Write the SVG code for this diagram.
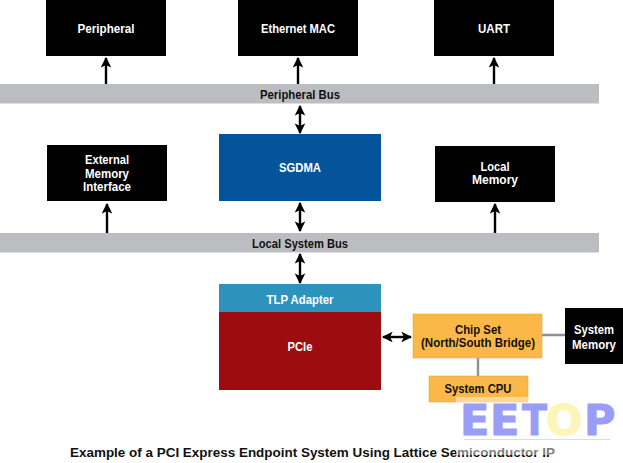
<svg xmlns="http://www.w3.org/2000/svg" width="623" height="463" viewBox="0 0 623 463">
<style>
text{font-family:"Liberation Sans",Arial,sans-serif;font-weight:700;font-size:13.500px;text-anchor:middle}
.w{fill:#fff}.k{fill:#111}
.blk{fill:#000}
.bus{fill:#bcbdc0}
.or{fill:#fbb848;stroke:#e8a838;stroke-width:.6}
.c{stroke:#000;stroke-width:2.400;fill:none}
.g{stroke:#8f9093;stroke-width:2.400;fill:none}
.wm{font-family:"DejaVu Sans",sans-serif;font-weight:700;font-size:43px;fill:#9a9df5;stroke:#9a9df5;stroke-width:1;text-anchor:start}
</style>
<defs>
<marker id="a" viewBox="0 0 10 10" refX="9" refY="5" markerWidth="4.500" markerHeight="4.500" orient="auto-start-reverse" markerUnits="strokeWidth"><path d="M0 0L10 5L0 10L2.500 5Z" fill="#000"/></marker>
</defs>
<rect width="623" height="463" fill="#fff"/>
<g id="peripheral-bus"><rect class="bus" x="0" y="84" width="599" height="19.500"/><text class="k" x="300" y="99" textLength="80" lengthAdjust="spacingAndGlyphs">Peripheral Bus</text></g>
<g id="local-system-bus"><rect class="bus" x="0" y="233" width="599" height="19.500"/><text class="k" x="300" y="248" textLength="96" lengthAdjust="spacingAndGlyphs">Local System Bus</text></g>
<g id="peripheral"><rect class="blk" x="46" y="0" width="120" height="56"/><text class="w" x="106" y="33" textLength="57" lengthAdjust="spacingAndGlyphs">Peripheral</text></g>
<g id="ethernet-mac"><rect class="blk" x="238" y="0" width="120" height="56"/><text class="w" x="298" y="33" textLength="74" lengthAdjust="spacingAndGlyphs">Ethernet MAC</text></g>
<g id="uart"><rect class="blk" x="434" y="0" width="120" height="56"/><text class="w" x="494" y="33" textLength="32" lengthAdjust="spacingAndGlyphs">UART</text></g>
<g id="external-memory"><rect class="blk" x="47" y="145" width="120" height="56"/><text class="w" x="107" y="164" textLength="44" lengthAdjust="spacingAndGlyphs">External</text><text class="w" x="107" y="178" textLength="44" lengthAdjust="spacingAndGlyphs">Memory</text><text class="w" x="107" y="191" textLength="48" lengthAdjust="spacingAndGlyphs">Interface</text></g>
<g id="sgdma"><rect x="219" y="134" width="162" height="67" fill="#04549c"/><text class="w" x="300" y="172" textLength="42" lengthAdjust="spacingAndGlyphs">SGDMA</text></g>
<g id="local-memory"><rect class="blk" x="435" y="146" width="120" height="56"/><text class="w" x="495" y="171" textLength="29" lengthAdjust="spacingAndGlyphs">Local</text><text class="w" x="495" y="184" textLength="46" lengthAdjust="spacingAndGlyphs">Memory</text></g>
<g id="tlp-adapter"><rect x="219" y="284" width="162" height="28" fill="#2e93bc"/><text class="w" x="300" y="304" textLength="67" lengthAdjust="spacingAndGlyphs">TLP Adapter</text></g>
<g id="pcie"><rect x="219" y="312" width="162" height="78" fill="#9c0c10"/><text class="w" x="300" y="351" textLength="25" lengthAdjust="spacingAndGlyphs">PCIe</text></g>
<g id="connectors">
<path class="g" d="M542 335H565M478 358V376"/>
<path class="c" d="M106 84V58" marker-end="url(#a)"/>
<path class="c" d="M298 84V58" marker-end="url(#a)"/>
<path class="c" d="M494 84V58" marker-end="url(#a)"/>
<path class="c" d="M107 233V204" marker-end="url(#a)"/>
<path class="c" d="M495 233V204" marker-end="url(#a)"/>
<path class="c" d="M300 106V133" marker-start="url(#a)" marker-end="url(#a)"/>
<path class="c" d="M300 203V231" marker-start="url(#a)" marker-end="url(#a)"/>
<path class="c" d="M300 254V283" marker-start="url(#a)" marker-end="url(#a)"/>
<path class="c" d="M383 337H411" marker-start="url(#a)" marker-end="url(#a)"/>
</g>
<g id="chip-set"><rect class="or" x="413" y="314" width="129" height="44"/><text class="k" x="478" y="334" textLength="46" lengthAdjust="spacingAndGlyphs">Chip Set</text><text class="k" x="478" y="347" textLength="114" lengthAdjust="spacingAndGlyphs">(North/South Bridge)</text></g>
<g id="system-memory"><rect class="blk" x="565" y="308" width="58" height="56"/><text class="w" x="594" y="334" textLength="40" lengthAdjust="spacingAndGlyphs">System</text><text class="w" x="594" y="349" textLength="44" lengthAdjust="spacingAndGlyphs">Memory</text></g>
<g id="system-cpu"><rect class="or" x="429" y="376" width="99" height="26"/><text class="k" x="478" y="393" textLength="67" lengthAdjust="spacingAndGlyphs">System CPU</text></g>
<text class="k" x="312.500" y="456.500" style="font-size:13px" textLength="485" lengthAdjust="spacingAndGlyphs">Example of a PCI Express Endpoint System Using Lattice Semiconductor IP</text>
<g id="watermark">
<rect x="456" y="397" width="162" height="58" fill="#fff" opacity=".45"/>
<text class="wm" x="460" y="435">E</text>
<text class="wm" x="490" y="435">E</text>
<text class="wm" x="522" y="435" textLength="25" lengthAdjust="spacingAndGlyphs">T</text>
<text class="wm" x="546" y="435" style="fill:#fdf6b8;stroke:#fdf6b8">O</text>
<text class="wm" x="584" y="435">P</text>
<rect x="464" y="439" width="146" height="1" fill="#ddd"/>
</g>
</svg>
